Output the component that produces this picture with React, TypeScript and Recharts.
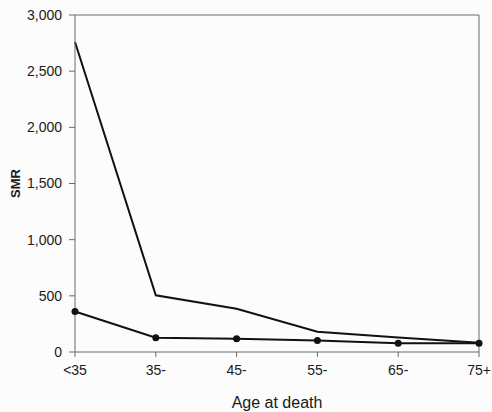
import { LineChart, Line, XAxis, YAxis, Label, ReferenceLine } from 'recharts';

const ageGroups = ['<35', '35-', '45-', '55-', '65-', '75+'];
const upperSmr = [2760, 505, 385, 180, 130, 82];
const lowerSmr = [360, 127, 118, 102, 78, 78];
const smrTicks = [0, 500, 1000, 1500, 2000, 2500, 3000];

const chartData = ageGroups.map((age, i) => ({
  age,
  upper: upperSmr[i],
  lower: lowerSmr[i],
}));

const FONT = '"Liberation Sans", Arial, sans-serif';
const AXIS = '#6b6b6b';

export default function App() {
  return (
    <div style={{ position: 'absolute', left: 0, top: 0, width: 492, height: 412, background: '#fcfcfc' }}>
      <LineChart
        width={492}
        height={412}
        data={chartData}
        margin={{ top: 15, right: 13, left: 0, bottom: 0 }}
        style={{ fontFamily: FONT }}
      >
        <XAxis
          dataKey="age"
          height={60}
          stroke={AXIS}
          tickSize={5}
          tickMargin={8}
          tick={{ fill: '#1a1a1a', fontSize: 14 }}
        >
          <Label value="Age at death" position="insideBottom" offset={4} fill="#1a1a1a" fontSize={16} />
        </XAxis>
        <YAxis
          domain={[0, 3000]}
          ticks={smrTicks}
          width={75}
          stroke={AXIS}
          tickSize={6}
          tickMargin={7}
          tick={{ fill: '#1a1a1a', fontSize: 14 }}
          tickFormatter={(v: number) => v.toLocaleString('en-US')}
        >
          <Label
            content={({ viewBox }: any) => {
              const cy = viewBox.y + viewBox.height / 2;
              return (
                <text
                  x={15}
                  y={cy}
                  transform={`rotate(-90, 15, ${cy})`}
                  textAnchor="middle"
                  dominantBaseline="central"
                  fontSize={13}
                  fontWeight="bold"
                  fill="#1a1a1a"
                >
                  SMR
                </text>
              );
            }}
          />
        </YAxis>
        {/* plot frame: top and right edges */}
        <ReferenceLine y={3000} stroke={AXIS} strokeWidth={1} />
        <ReferenceLine x={ageGroups[ageGroups.length - 1]} stroke={AXIS} strokeWidth={1} />
        <Line
          type="linear"
          dataKey="upper"
          stroke="#111"
          strokeWidth={2}
          dot={false}
          isAnimationActive={false}
        />
        <Line
          type="linear"
          dataKey="lower"
          stroke="#111"
          strokeWidth={2}
          dot={{ r: 3.5, fill: '#111', stroke: '#111', strokeWidth: 0 }}
          isAnimationActive={false}
        />
      </LineChart>
    </div>
  );
}
